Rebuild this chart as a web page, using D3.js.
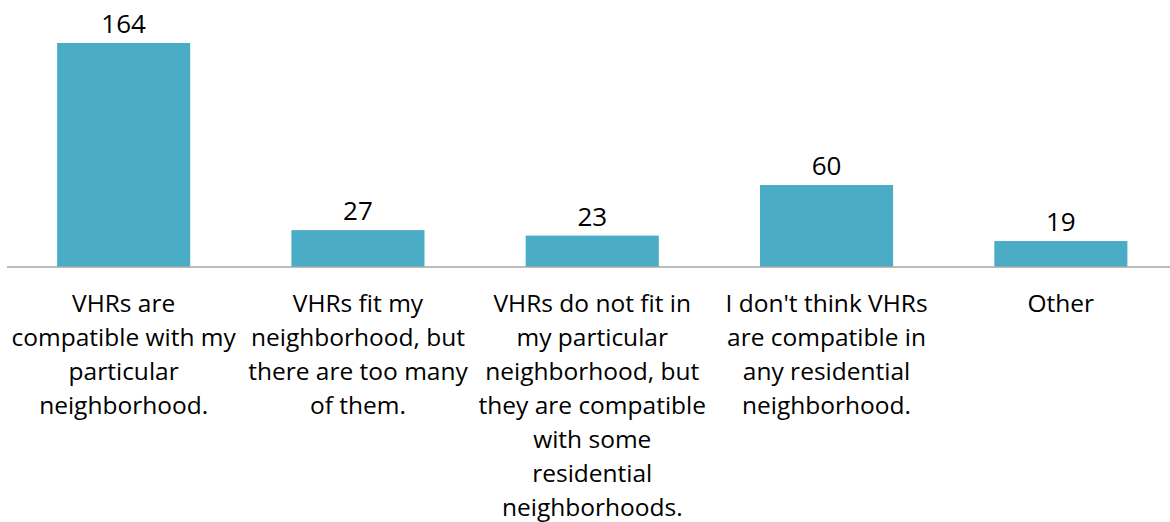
<!DOCTYPE html>
<html>
<head>
<meta charset="utf-8">
<script src="https://cdn.jsdelivr.net/npm/d3@7"></script>
<style>
  body { margin: 0; background: #fff; }
  svg { display: block; }
</style>
</head>
<body>
<div id="chart"></div>
<script>
// survey answers, one bar each
var categories = [
    ['VHRs are', 'compatible with my', 'particular', 'neighborhood.'],
    ['VHRs fit my', 'neighborhood, but', 'there are too many', 'of them.'],
    ['VHRs do not fit in', 'my particular', 'neighborhood, but', 'they are compatible', 'with some', 'residential', 'neighborhoods.'],
    ["I don't think VHRs", 'are compatible in', 'any residential', 'neighborhood.'],
    ['Other']
]
var counts = [164, 27, 23, 60, 19]

var width = 1170, height = 522
var baseY = 267
var fontFam = '"Open Sans", sans-serif'

var svg = d3.select('#chart')
            .append('svg')
            .attr('width', width)
            .attr('height', height)

var x = d3.scaleBand()
            .domain(d3.range(counts.length))
            .range([6.5, 1178])
            .paddingInner(0.432)
            .paddingOuter(0.216)

var y = d3.scaleLinear()
            .domain([0, 164])
            .range([baseY, 43])

// bars
svg.append('g')
    .selectAll('rect')
    .data(counts)
    .join('rect')
    .attr('x', (d, i) => x(i))
    .attr('y', d => y(d))
    .attr('width', x.bandwidth())
    .attr('height', d => baseY - y(d))
    .attr('fill', '#4BACC6')

// baseline
svg.append('line')
    .attr('x1', 7).attr('x2', width)
    .attr('y1', baseY).attr('y2', baseY)
    .attr('stroke', '#A6A6A6')
    .attr('stroke-width', 1.5)

// value labels
svg.append('g')
    .selectAll('text')
    .data(counts)
    .join('text')
    .attr('x', (d, i) => x(i) + x.bandwidth() / 2)
    .attr('y', d => y(d) - 10)
    .attr('text-anchor', 'middle')
    .attr('font-family', fontFam)
    .attr('font-size', '26px')
    .attr('fill', '#000')
    .text(d => d)

// category labels, pre-wrapped
var catG = svg.append('g')
    .selectAll('text')
    .data(categories)
    .join('text')
    .attr('text-anchor', 'middle')
    .attr('font-family', fontFam)
    .attr('font-size', '24.5px')
    .attr('fill', '#000')

catG.each(function(lines, i){
    var cx = x(i) + x.bandwidth() / 2
    d3.select(this).selectAll('tspan')
        .data(lines)
        .join('tspan')
        .attr('x', cx)
        .attr('y', (d, j) => 312 + j * 34)
        .text(d => d)
})
</script>
</body>
</html>
